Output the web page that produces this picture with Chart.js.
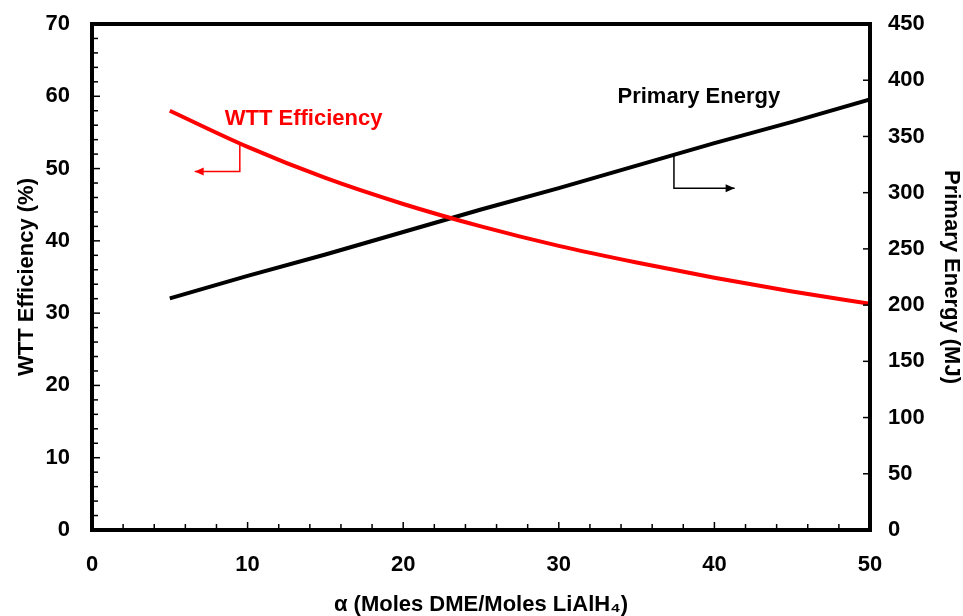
<!DOCTYPE html>
<html>
<head>
<meta charset="utf-8">
<script src="https://cdn.jsdelivr.net/npm/chart.js@4.4.0/dist/chart.umd.min.js"></script>
<style>
  html, body { margin: 0; padding: 0; background: #fff; }
  #wrap { width: 963px; height: 616px; position: relative; }
</style>
</head>
<body>
<div id="wrap"><canvas id="grafico"></canvas></div>
<script>
        // Valores
        const alpha = [5, 10, 15, 20, 25, 30, 35, 40, 45, 50];
        const wttEfficiency = [58.0, 53.0, 48.7, 45.1, 42.0, 39.3, 37.0, 34.9, 33.0, 31.3];
        const primaryEnergy = [206, 226, 245, 265, 285, 304, 324, 344, 363, 383];

        const FONT = "'Liberation Sans', Arial, sans-serif";

        // Etiquetas con flecha (en unidades de datos)
        const notes = [
            { text: 'WTT Efficiency', color: '#ff0000', axis: 'y', tx: 13.6, ty: 56.8,
              path: [[9.5, 53.4], [9.5, 49.6], [6.6, 49.6]] },
            { text: 'Primary Energy', color: '#000000', axis: 'y1', tx: 39.0, ty: 385,
              path: [[37.4, 333], [37.4, 304], [41.3, 304]] }
        ];

        const frame = {
            id: 'frame',
            afterDatasetsDraw(chart) {
                const { ctx, chartArea: a, scales } = chart;
                ctx.save();
                ctx.strokeStyle = '#000';
                ctx.lineWidth = 1.5;
                const tick = (x1, y1, x2, y2) => {
                    ctx.beginPath(); ctx.moveTo(x1, y1); ctx.lineTo(x2, y2); ctx.stroke();
                };
                for (let v = 2; v < 50; v += 2) {
                    const x = scales.x.getPixelForValue(v);
                    tick(x, a.bottom, x, a.bottom - (v % 10 ? 6 : 8));
                }
                for (let v = 2; v < 70; v += 2) {
                    const y = scales.y.getPixelForValue(v);
                    tick(a.left, y, a.left + (v % 10 ? 6 : 8), y);
                }
                for (let v = 50; v < 450; v += 50) {
                    const y = scales.y1.getPixelForValue(v);
                    tick(a.right, y, a.right - 7, y);
                }
                ctx.lineWidth = 4;
                ctx.strokeRect(a.left, a.top, a.right - a.left, a.bottom - a.top);

                // etiquetas y flechas
                notes.forEach(n => {
                    const ys = scales[n.axis];
                    ctx.fillStyle = n.color;
                    ctx.strokeStyle = n.color;
                    ctx.font = 'bold 22px ' + FONT;
                    ctx.textAlign = 'center';
                    ctx.textBaseline = 'middle';
                    ctx.fillText(n.text, scales.x.getPixelForValue(n.tx), ys.getPixelForValue(n.ty));
                    const pts = n.path.map(p => [scales.x.getPixelForValue(p[0]), ys.getPixelForValue(p[1])]);
                    ctx.lineWidth = 1.5;
                    ctx.beginPath();
                    ctx.moveTo(pts[0][0], pts[0][1]);
                    for (let i = 1; i < pts.length; i++) ctx.lineTo(pts[i][0], pts[i][1]);
                    ctx.stroke();
                    const [ex, ey] = pts[pts.length - 1];
                    const dir = Math.sign(ex - pts[pts.length - 2][0]);
                    ctx.beginPath();
                    ctx.moveTo(ex, ey);
                    ctx.lineTo(ex - dir * 9, ey - 4);
                    ctx.lineTo(ex - dir * 9, ey + 4);
                    ctx.closePath();
                    ctx.fill();
                });
                ctx.restore();
            }
        };

        const tickFont = { family: FONT, size: 22, weight: 'bold' };
        const titleFont = { family: FONT, size: 22, weight: 'bold', lineHeight: 1 };

        const chartData = {
            datasets: [
                {
                    label: 'WTT Efficiency',
                    data: alpha.map((a, i) => ({ x: a, y: wttEfficiency[i] })),
                    yAxisID: 'y',
                    borderColor: '#ff0000',
                    borderWidth: 4,
                    pointRadius: 0,
                    cubicInterpolationMode: 'monotone',
                    fill: false
                },
                {
                    label: 'Primary Energy',
                    data: alpha.map((a, i) => ({ x: a, y: primaryEnergy[i] })),
                    yAxisID: 'y1',
                    borderColor: '#000000',
                    borderWidth: 4,
                    pointRadius: 0,
                    fill: false
                }
            ]
        };

        const chartOptions = {
            responsive: true,
            maintainAspectRatio: false,
            animation: false,
            layout: { padding: { top: 24, left: 0, right: 0, bottom: 0 } },
            plugins: { legend: { display: false }, tooltip: { enabled: false } },
            scales: {
                x: {
                    type: 'linear', min: 0, max: 50,
                    grid: { display: false, drawTicks: false },
                    border: { display: false },
                    ticks: { stepSize: 10, font: tickFont, color: '#000', padding: 22, maxRotation: 0 },
                    title: { display: true, text: 'α (Moles DME/Moles LiAlH₄)', font: titleFont, color: '#000', padding: { top: 0, bottom: 0 } },
                    afterFit(s) { s.height = 86; s.paddingLeft = 0; s.paddingRight = 0; }
                },
                y: {
                    type: 'linear', position: 'left', min: 0, max: 70,
                    grid: { display: false, drawTicks: false },
                    border: { display: false },
                    ticks: { stepSize: 10, font: tickFont, color: '#000', padding: 22 },
                    title: { display: true, text: 'WTT Efficiency (%)', font: titleFont, color: '#000', padding: { top: 16, bottom: 0 } },
                    afterFit(s) { s.width = 92; s.paddingTop = 0; s.paddingBottom = 0; }
                },
                y1: {
                    type: 'linear', position: 'right', min: 0, max: 450,
                    grid: { display: false, drawTicks: false },
                    border: { display: false },
                    ticks: { stepSize: 50, font: tickFont, color: '#000', padding: 18 },
                    title: { display: true, text: 'Primary Energy (MJ)', font: titleFont, color: '#000', padding: { top: 1, bottom: 0 } },
                    afterFit(s) { s.width = 93; s.paddingTop = 0; s.paddingBottom = 0; }
                }
            }
        };

        const canvas = document.getElementById('grafico');
        const ctx = canvas.getContext('2d');
        const chart = new Chart(ctx, {
            type: 'line',
            data: chartData,
            options: chartOptions,
            plugins: [frame]
        });
</script>
</body>
</html>
